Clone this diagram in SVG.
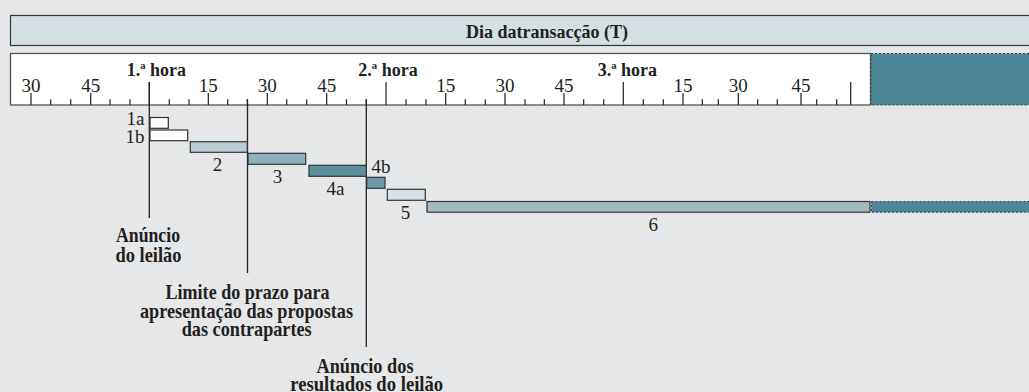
<svg xmlns="http://www.w3.org/2000/svg" width="1029" height="392" viewBox="0 0 1029 392">
<style>
text{fill:#231f20}
.n{font-size:19px}
.h{font-size:18px;font-weight:bold}
.b{font-size:21px;font-weight:bold;text-anchor:middle}
.c{text-anchor:middle}
.bar{stroke:#333;stroke-width:1.2}
.teal{fill:#4b8796;stroke:#2a3c44;stroke-width:1;stroke-dasharray:2 2}
.tk{stroke:#231f20;stroke-width:1.2}
.ln{stroke:#231f20;stroke-width:1.3;fill:none}
</style>
<rect x="0" y="0" width="1029" height="392" fill="#e6e7e9"/>
<g font-family="Liberation Serif">
<g id="header">
<rect x="10.5" y="15.5" width="1030" height="30" fill="#d4dfe3" stroke="#333" stroke-width="1.2"/>
<text class="h c" x="547" y="37.5" font-family="Liberation Serif">Dia datransacção (T)</text>
</g>
<g id="ruler">
<rect x="10.5" y="53.5" width="860" height="51.5" fill="#fff" stroke="#555" stroke-width="1.3"/>
<rect x="871" y="53.5" width="170" height="51.5" class="teal"/>
<g class="tk">
<path d="M31 93V105M90.7 93V105M208.3 93V105M267.3 93V105M326.7 93V105M445.7 93V105M505 93V105M564 93V105M683 93V105M738.3 93V105M801 93V105"/>
<path d="M149.3 82V105M386 82V105M623.3 82V105M850.7 82V105"/>
<path d="M50.7 99.3V105M70.7 99.3V105M110 99.3V105M130 99.3V105M169.3 99.3V105M189 99.3V105M227.7 99.3V105M247.3 99.3V105M286.7 99.3V105M306.7 99.3V105M346.5 99.3V105M366.3 99.3V105M406 99.3V105M426 99.3V105M465.3 99.3V105M485.3 99.3V105M525 99.3V105M544.3 99.3V105M583.7 99.3V105M603.7 99.3V105M643.3 99.3V105M663.3 99.3V105M702.3 99.3V105M718.3 99.3V105M757.7 99.3V105M777.3 99.3V105M816.7 99.3V105M836.7 99.3V105"/>
</g>
<g class="n c" font-family="Liberation Serif">
<text x="31" y="92">30</text>
<text x="90.7" y="92">45</text>
<text x="208.3" y="92">15</text>
<text x="267.3" y="92">30</text>
<text x="326.7" y="92">45</text>
<text x="445.7" y="92">15</text>
<text x="505" y="92">30</text>
<text x="564" y="92">45</text>
<text x="683" y="92">15</text>
<text x="738.3" y="92">30</text>
<text x="801" y="92">45</text>
</g>
<text class="h" x="126.7" y="75.7" font-family="Liberation Serif">1.ª hora</text>
<text class="h" x="358.3" y="75.7" font-family="Liberation Serif">2.ª hora</text>
<text class="h" x="597.7" y="75.7" font-family="Liberation Serif">3.ª hora</text>
</g>
<g id="connectors">
<path class="ln" d="M149.3 82V218"/>
<path class="ln" d="M247.5 99.3V273"/>
<path class="ln" d="M366.3 99.3V347"/>
</g>
<g id="bar-1a"><rect class="bar" x="150" y="117.5" width="18.3" height="10.8" fill="#fff"/><text class="n" x="144.5" y="125" text-anchor="end" font-family="Liberation Serif">1a</text></g>
<g id="bar-1b"><rect class="bar" x="150" y="130" width="37.7" height="10.7" fill="#fff"/><text class="n" x="144.5" y="142.5" text-anchor="end" font-family="Liberation Serif">1b</text></g>
<g id="bar-2"><rect class="bar" x="190.3" y="141.7" width="57" height="10.6" fill="#b9cdd5"/><text class="n c" x="217.5" y="171" font-family="Liberation Serif">2</text></g>
<g id="bar-3"><rect class="bar" x="248" y="153.3" width="57.7" height="11" fill="#8eb0bb"/><text class="n c" x="277.5" y="183.3" font-family="Liberation Serif">3</text></g>
<g id="bar-4a"><rect class="bar" x="309" y="165.3" width="57.3" height="11" fill="#5b8f9c"/><text class="n c" x="335.5" y="195" font-family="Liberation Serif">4a</text></g>
<g id="bar-4b"><rect class="bar" x="366.7" y="177.3" width="18.3" height="11" fill="#6c9aa6"/><text class="n" x="371.5" y="172.7" font-family="Liberation Serif">4b</text></g>
<g id="bar-5"><rect class="bar" x="387.3" y="189.3" width="38" height="11" fill="#d6e2e7"/><text class="n c" x="405.5" y="219" font-family="Liberation Serif">5</text></g>
<g id="bar-6"><rect class="bar" x="427" y="201.5" width="443" height="10.7" fill="#a3bac2"/><rect class="teal" x="871.5" y="201.5" width="170" height="10.7"/><text class="n c" x="653.3" y="230.7" font-family="Liberation Serif">6</text></g>
<g id="label-anuncio" font-family="Liberation Serif">
<text class="b" x="148" y="242" textLength="64" lengthAdjust="spacingAndGlyphs">Anúncio</text>
<text class="b" x="148.5" y="261.5" textLength="66" lengthAdjust="spacingAndGlyphs">do leilão</text>
</g>
<g id="label-limite" font-family="Liberation Serif">
<text class="b" x="247.5" y="299" textLength="164" lengthAdjust="spacingAndGlyphs">Limite do prazo para</text>
<text class="b" x="246.5" y="317.5" textLength="213" lengthAdjust="spacingAndGlyphs">apresentação das propostas</text>
<text class="b" x="246.7" y="336" textLength="130" lengthAdjust="spacingAndGlyphs">das contrapartes</text>
</g>
<g id="label-resultados" font-family="Liberation Serif">
<text class="b" x="365" y="373" textLength="97" lengthAdjust="spacingAndGlyphs">Anúncio dos</text>
<text class="b" x="366.7" y="390.5" textLength="153" lengthAdjust="spacingAndGlyphs">resultados do leilão</text>
</g>
</g>
</svg>
